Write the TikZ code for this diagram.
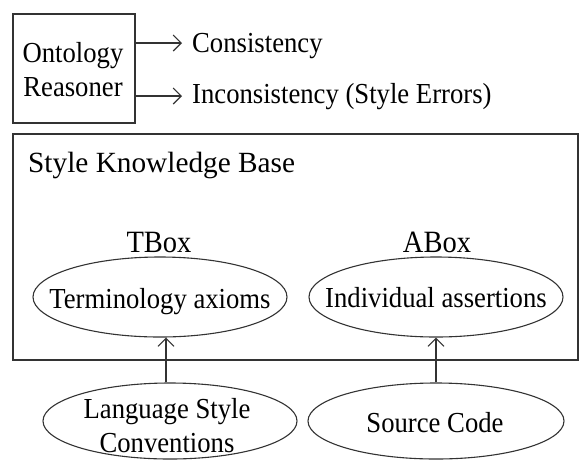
\documentclass[tikz,border=0pt]{standalone}
\usepackage{fontspec}
\setmainfont{Liberation Serif}
\newfontfamily\condfont[FakeStretch=0.92]{Liberation Serif}
\usetikzlibrary{shapes.geometric,arrows.meta}
\begin{document}
\begin{tikzpicture}[x=1pt,y=-1pt,
  every node/.style={font=\condfont\fontsize{29}{34}\selectfont, text=black},
  ln/.style={draw=black!80, line width=1.1pt},
  arr/.style={ln, -{Straight Barb[length=8pt,width=16pt,line width=1.1pt]}},
  ell/.style={ln, ellipse, inner sep=0pt},
  txt/.style={inner sep=0pt, align=center},
  lbl/.style={inner sep=0pt, anchor=base}]
\clip (0,0) rectangle (581,459);
\fill[white] (0,0) rectangle (581,459);
% Reasoner
\node[ln, rectangle, minimum width=122pt, minimum height=109pt, inner sep=0pt] (reasoner) at (74,68.5) {};
\node[txt] (reasonert) at (73,70) {Ontology\\Reasoner};
\node[lbl, anchor=base west] (cons) at (192,52) {Consistency};
\node[lbl, anchor=base west] (incons) at (192,103) {Inconsistency (Style Errors)};
\coordinate (c1) at (182,43);
\coordinate (c2) at (182,96);
\draw[arr] (reasoner.east |- c1) -- (c1);
\draw[arr] (reasoner.east |- c2) -- (c2);
% Knowledge base
\node[ln, rectangle, minimum width=565pt, minimum height=226pt, inner sep=0pt] (kb) at (295.5,247) {};
\node[lbl, anchor=base west, font=\fontsize{29.3}{34}\selectfont] (kbt) at (28,172) {Style Knowledge Base};
\node[lbl, font=\condfont\fontsize{31}{34}\selectfont] (tl) at (159,252) {TBox};
\node[lbl, font=\condfont\fontsize{31}{34}\selectfont] (al) at (437,252) {ABox};
\node[ell, minimum width=254pt, minimum height=80pt] (tbox) at (160,297) {};
\node[lbl] (tboxt) at (160,308) {Terminology axioms};
\node[ell, minimum width=254pt, minimum height=80pt] (abox) at (436,297) {};
\node[lbl] (aboxt) at (436,307) {Individual assertions};
% Sources
\node[ell, minimum width=254pt, minimum height=76pt] (lsc) at (170,421) {};
\node[txt] (lsct) at (167,426) {Language Style\\Conventions};
\node[ell, minimum width=256pt, minimum height=76pt] (src) at (436,421) {};
\node[lbl] (srct) at (435,432) {Source Code};
\coordinate (a1) at (166,0);
\draw[arr] (lsc.north -| a1) -- (tbox.south -| a1);
\draw[arr] (src.north) -- (abox.south);
\end{tikzpicture}
\end{document}
